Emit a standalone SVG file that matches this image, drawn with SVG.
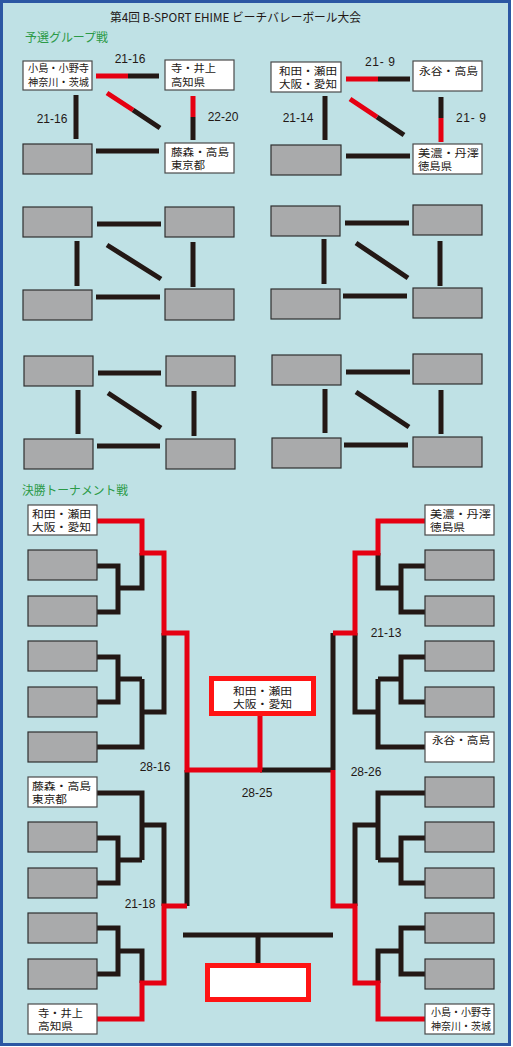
<svg xmlns="http://www.w3.org/2000/svg" width="513" height="1047" viewBox="0 0 513 1047">
<style>
.bg{fill:#bfe1e5;stroke:#2b57a3;stroke-width:3}
.w{fill:#ffffff;stroke:#4a4a4a;stroke-width:1.2}
.g{fill:#a9aaab;stroke:#2f2f2f;stroke-width:1.2}
.win{fill:#ffffff;stroke:#ff1414;stroke-width:5}
.t{font-family:"Noto Sans CJK JP","Noto Sans",sans-serif;font-size:10.5px;fill:#231815}
.s{font-family:"Liberation Sans",Arial,sans-serif;font-size:12px;fill:#231815;text-anchor:middle}
.h{font-family:"Noto Sans CJK JP",sans-serif;font-size:12px;fill:#2b9a47}
.ti{font-family:"Noto Sans CJK JP",sans-serif;font-size:12px;fill:#231815}
.k{fill:none;stroke:#231815;stroke-width:5;stroke-linecap:butt;stroke-linejoin:miter}
.r{fill:none;stroke:#e60012;stroke-width:5;stroke-linecap:butt;stroke-linejoin:miter}
</style>
<rect class="bg" x="1.5" y="1.5" width="508" height="1043"/>
<text class="ti" x="110" y="22" textLength="251" lengthAdjust="spacingAndGlyphs">第4回 B-SPORT EHIME ビーチバレーボール大会</text>
<text class="h" x="25" y="42" textLength="83" lengthAdjust="spacingAndGlyphs">予選グループ戦</text>
<text class="h" x="22" y="495" textLength="106" lengthAdjust="spacingAndGlyphs">決勝トーナメント戦</text>

<g id="connectors">
<!-- group 1 -->
<path class="k" d="M128,76H159M76,95V139M133,110L160,128M193,117V140M96,151H159"/>
<path class="r" d="M96,76H128M107,93L133,110M193,96V117"/>
<!-- group 2 -->
<path class="k" d="M378,79H410M325,96V140M377,117L404,135M441,97V118M346,156H410"/>
<path class="r" d="M346,79H378M350,99L377,117M441,118V142"/>
<!-- group 3 -->
<path class="k" d="M97,224H161M77,241V286M107,245L161,279M193,242V287M96,297H160"/>
<!-- group 4 -->
<path class="k" d="M345,223H409M324,239V284M356,243L408,278M440,241V286M343,296H407"/>
<!-- group 5 -->
<path class="k" d="M98,373H161M78,390V434M108,393L161,428M194,391V436M97,446H160"/>
<!-- group 6 -->
<path class="k" d="M346,372H410M325,389V433M356,392L409,427M441,390V434M344,445H408"/>

<!-- tournament left black -->
<path class="k" d="M97,566H118V612H97M118,588H142V553"/>
<path class="k" d="M97,657H118V702H97M118,679H142M97,747H142V679M142,712H164V633"/>
<path class="k" d="M97,793H142V860M97,838H118V883H97M118,860H142M142,825H164V906"/>
<path class="k" d="M97,928H118V974H97M118,951H142V983"/>
<path class="k" d="M187,770V906"/>
<!-- tournament right black -->
<path class="k" d="M425,566H401V612H425M401,588H378V553"/>
<path class="k" d="M425,657H401V702H425M401,679H378M425,747H378V679M378,712H355V633"/>
<path class="k" d="M425,793H378V860M425,838H401V883H425M401,860H378M378,825H355V906"/>
<path class="k" d="M425,928H401V974H425M401,951H378V983"/>
<path class="k" d="M333,633V770M260,770H333"/>
<!-- third place -->
<path class="k" d="M183,935H333M258,935V963"/>
<!-- red paths -->
<path class="r" d="M97,521H142V553H164V633H187V770H262"/>
<path class="r" d="M97,1019H142V983H164V906H187"/>
<path class="r" d="M425,521H378V553H355V633H333"/>
<path class="r" d="M425,1019H378V983H355V906H333V770"/>
<path class="r" d="M260,716V770"/>
</g>

<!-- group 1 nodes -->
<g id="g1a"><rect class="w" x="23" y="61" width="69" height="29"/><text class="t"><tspan x="28" y="72" textLength="61" lengthAdjust="spacingAndGlyphs">小島・小野寺</tspan><tspan x="28" y="85.5" textLength="61" lengthAdjust="spacingAndGlyphs">神奈川・茨城</tspan></text></g>
<g id="g1b"><rect class="w" x="165" y="60" width="69" height="30"/><text class="t"><tspan x="171" y="72" textLength="45" lengthAdjust="spacingAndGlyphs">寺・井上</tspan><tspan x="171" y="85.5" textLength="34" lengthAdjust="spacingAndGlyphs">高知県</tspan></text></g>
<g id="g1c"><rect class="g" x="23" y="144" width="69" height="30"/></g>
<g id="g1d"><rect class="w" x="165" y="143" width="69" height="30"/><text class="t"><tspan x="171" y="156" textLength="58" lengthAdjust="spacingAndGlyphs">藤森・高島</tspan><tspan x="171" y="169" textLength="34" lengthAdjust="spacingAndGlyphs">東京都</tspan></text></g>
<text class="s" x="130" y="63">21-16</text>
<text class="s" x="52" y="123">21-16</text>
<text class="s" x="223" y="121">22-20</text>

<!-- group 2 nodes -->
<g id="g2a"><rect class="w" x="271" y="62" width="70" height="30"/><text class="t"><tspan x="279" y="74.5" textLength="58" lengthAdjust="spacingAndGlyphs">和田・瀬田</tspan><tspan x="279" y="87.5" textLength="58" lengthAdjust="spacingAndGlyphs">大阪・愛知</tspan></text></g>
<g id="g2b"><rect class="w" x="413" y="61" width="69" height="30"/><text class="t" x="419" y="75" textLength="59" lengthAdjust="spacingAndGlyphs">永谷・高島</text></g>
<g id="g2c"><rect class="g" x="271" y="145" width="70" height="30"/></g>
<g id="g2d"><rect class="w" x="413" y="144" width="69" height="30"/><text class="t"><tspan x="418" y="157" textLength="61" lengthAdjust="spacingAndGlyphs">美濃・丹澤</tspan><tspan x="418" y="170" textLength="34" lengthAdjust="spacingAndGlyphs">徳島県</tspan></text></g>
<text class="s" x="380" y="66" xml:space="preserve" textLength="30">21- 9</text>
<text class="s" x="298" y="122">21-14</text>
<text class="s" x="471" y="122" xml:space="preserve" textLength="30">21- 9</text>

<!-- group 3 -->
<g id="g3a"><rect class="g" x="23" y="207" width="69" height="30"/></g>
<g id="g3b"><rect class="g" x="165" y="207" width="69" height="30"/></g>
<g id="g3c"><rect class="g" x="23" y="290" width="69" height="30"/></g>
<g id="g3d"><rect class="g" x="165" y="289" width="69" height="31"/></g>
<!-- group 4 -->
<g id="g4a"><rect class="g" x="271" y="206" width="69" height="30"/></g>
<g id="g4b"><rect class="g" x="413" y="205" width="69" height="30"/></g>
<g id="g4c"><rect class="g" x="271" y="289" width="69" height="30"/></g>
<g id="g4d"><rect class="g" x="413" y="288" width="69" height="30"/></g>
<!-- group 5 -->
<g id="g5a"><rect class="g" x="24" y="356" width="69" height="30"/></g>
<g id="g5b"><rect class="g" x="166" y="356" width="69" height="30"/></g>
<g id="g5c"><rect class="g" x="24" y="439" width="69" height="30"/></g>
<g id="g5d"><rect class="g" x="166" y="439" width="69" height="30"/></g>
<!-- group 6 -->
<g id="g6a"><rect class="g" x="272" y="355" width="69" height="30"/></g>
<g id="g6b"><rect class="g" x="413" y="354" width="69" height="30"/></g>
<g id="g6c"><rect class="g" x="272" y="438" width="69" height="30"/></g>
<g id="g6d"><rect class="g" x="413" y="437" width="69" height="30"/></g>

<!-- tournament left -->
<g id="l1"><rect class="w" x="28" y="505" width="69" height="30"/><text class="t"><tspan x="32" y="517.5" textLength="59" lengthAdjust="spacingAndGlyphs">和田・瀬田</tspan><tspan x="32" y="530.5" textLength="59" lengthAdjust="spacingAndGlyphs">大阪・愛知</tspan></text></g>
<g id="l2"><rect class="g" x="28" y="550" width="69" height="30"/></g>
<g id="l3"><rect class="g" x="28" y="596" width="69" height="30"/></g>
<g id="l4"><rect class="g" x="28" y="641" width="69" height="30"/></g>
<g id="l5"><rect class="g" x="28" y="687" width="69" height="30"/></g>
<g id="l6"><rect class="g" x="28" y="732" width="69" height="30"/></g>
<g id="l7"><rect class="w" x="28" y="777" width="69" height="30"/><text class="t"><tspan x="32" y="789.5" textLength="59" lengthAdjust="spacingAndGlyphs">藤森・高島</tspan><tspan x="32" y="802.5" textLength="35" lengthAdjust="spacingAndGlyphs">東京都</tspan></text></g>
<g id="l8"><rect class="g" x="28" y="822" width="69" height="30"/></g>
<g id="l9"><rect class="g" x="28" y="868" width="69" height="30"/></g>
<g id="l10"><rect class="g" x="28" y="913" width="69" height="30"/></g>
<g id="l11"><rect class="g" x="28" y="959" width="69" height="30"/></g>
<g id="l12"><rect class="w" x="28" y="1004" width="69" height="30"/><text class="t"><tspan x="38" y="1016.5" textLength="45" lengthAdjust="spacingAndGlyphs">寺・井上</tspan><tspan x="38" y="1029.5" textLength="35" lengthAdjust="spacingAndGlyphs">高知県</tspan></text></g>

<!-- tournament right -->
<g id="r1"><rect class="w" x="425" y="505" width="69" height="30"/><text class="t"><tspan x="430" y="517.5" textLength="61" lengthAdjust="spacingAndGlyphs">美濃・丹澤</tspan><tspan x="430" y="530.5" textLength="35" lengthAdjust="spacingAndGlyphs">徳島県</tspan></text></g>
<g id="r2"><rect class="g" x="425" y="550" width="69" height="30"/></g>
<g id="r3"><rect class="g" x="425" y="596" width="69" height="30"/></g>
<g id="r4"><rect class="g" x="425" y="641" width="69" height="30"/></g>
<g id="r5"><rect class="g" x="425" y="687" width="69" height="30"/></g>
<g id="r6"><rect class="w" x="425" y="732" width="69" height="30"/><text class="t" x="432" y="744" textLength="58" lengthAdjust="spacingAndGlyphs">永谷・高島</text></g>
<g id="r7"><rect class="g" x="425" y="777" width="69" height="30"/></g>
<g id="r8"><rect class="g" x="425" y="822" width="69" height="30"/></g>
<g id="r9"><rect class="g" x="425" y="868" width="69" height="30"/></g>
<g id="r10"><rect class="g" x="425" y="913" width="69" height="30"/></g>
<g id="r11"><rect class="g" x="425" y="959" width="69" height="30"/></g>
<g id="r12"><rect class="w" x="425" y="1004" width="69" height="30"/><text class="t"><tspan x="431" y="1016" textLength="60" lengthAdjust="spacingAndGlyphs">小島・小野寺</tspan><tspan x="431" y="1029.5" textLength="60" lengthAdjust="spacingAndGlyphs">神奈川・茨城</tspan></text></g>

<!-- champion and third place -->
<g id="champion"><rect class="win" x="211.5" y="678.5" width="102" height="35"/><text class="t" text-anchor="middle"><tspan x="262.5" y="694.5" textLength="59" lengthAdjust="spacingAndGlyphs">和田・瀬田</tspan><tspan x="262.5" y="707.5" textLength="59" lengthAdjust="spacingAndGlyphs">大阪・愛知</tspan></text></g>
<g id="third"><rect class="win" x="207.5" y="965.5" width="101" height="34"/></g>

<text class="s" x="155" y="771">28-16</text>
<text class="s" x="140" y="908">21-18</text>
<text class="s" x="257" y="797">28-25</text>
<text class="s" x="386" y="637">21-13</text>
<text class="s" x="366" y="776">28-26</text>
</svg>
